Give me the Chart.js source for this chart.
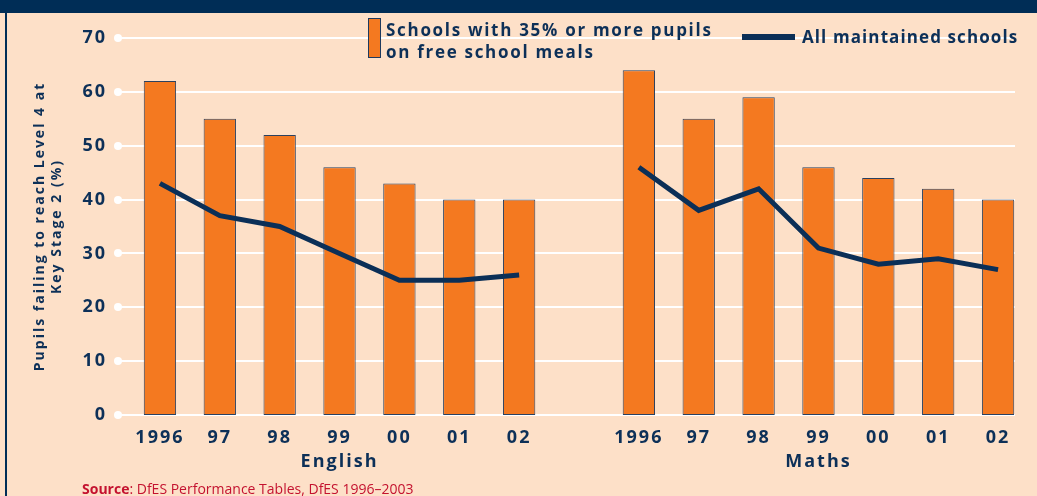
<!DOCTYPE html>
<html>
<head>
<meta charset="utf-8">
<script src="https://cdn.jsdelivr.net/npm/chart.js@4"></script>
<style>
  body { margin: 0; background: #fde0c8; font-family: "Open Sans", sans-serif; }
  #wrap { position: absolute; left: 0; top: 0; width: 1037px; height: 496px; }
  .band { position: absolute; left: 0; top: 0; width: 1037px; height: 13px; background: #002d56; }
  .edge { position: absolute; left: 5px; top: 0; width: 2px; height: 496px; background: #002d56; }
  .legend { position: absolute; color: #0d3058; font-weight: 700; font-size: 17px; letter-spacing: 1.4px; }
  .swatch { position: absolute; left: 368px; top: 18px; width: 11px; height: 38px; background: #f47920; border: 1px solid #1d3a5f; }
  .lineKey { position: absolute; left: 742px; top: 34px; width: 53px; height: 6px; background: #0b2f57; }
  .source { position: absolute; left: 82px; top: 479px; font-size: 14px; color: #c4122f; }
</style>
</head>
<body>
<div id="wrap"><canvas id="chart"></canvas></div>
<div class="band"></div>
<div class="edge"></div>
<div class="swatch"></div>
<div class="legend" style="left:386px; top:19px; line-height:22px; letter-spacing:1.7px;">Schools with 35% or more pupils<br>on free school meals</div>
<div class="lineKey"></div>
<div class="legend" style="left:802px; top:26px; line-height:22px; letter-spacing:1.1px;">All maintained schools</div>
<div class="source"><b>Source</b>: DfES Performance Tables, DfES 1996–2003</div>
<script>
// data
const years = ['1996', '97', '98', '99', '00', '01', '02'];
const subjects = ['English', 'Maths'];
const englishFsm = [62, 55, 52, 46, 43, 40, 40];
const mathsFsm = [64, 55, 59, 46, 44, 42, 40];
const englishAll = [43, 37, 35, 30, 25, 25, 26];
const mathsAll = [46, 38, 42, 31, 28, 29, 27];

// one empty slot between the two subjects
const labels = [...years, '', ...years];
const fsmData = [...englishFsm, null, ...mathsFsm];
const allData = [...englishAll, null, ...mathsAll];

const navy = '#0d3058';

// white gridlines with a dot at the start, subject names under the years
const decor = {
  id: 'decor',
  beforeUpdate(chart) { chart.ctx.letterSpacing = '2px'; },
  beforeDraw(chart) { chart.ctx.letterSpacing = '2px'; },
  beforeDatasetsDraw(chart) {
    const { ctx, chartArea, scales: { y } } = chart;
    const x0 = chartArea.left - 12;
    const x1 = chartArea.right - 13;
    ctx.save();
    ctx.strokeStyle = '#ffffff';
    ctx.fillStyle = '#ffffff';
    ctx.lineWidth = 2;
    y.ticks.forEach(t => {
      const py = Math.round(y.getPixelForValue(t.value));
      ctx.beginPath();
      ctx.moveTo(x0, py);
      ctx.lineTo(x1, py);
      ctx.stroke();
      ctx.beginPath();
      ctx.arc(x0, py, 4, 0, Math.PI * 2);
      ctx.fill();
    });
    ctx.restore();
  },
  afterDraw(chart) {
    const { ctx, scales: { x } } = chart;
    ctx.save();
    ctx.font = 'bold 18px "Open Sans"';
    ctx.fillStyle = navy;
    ctx.textAlign = 'center';
    ctx.textBaseline = 'middle';
    subjects.forEach((s, i) => {
      const px = x.getPixelForValue(3 + i * (years.length + 1));
      ctx.fillText(s, px, 462);
    });
    ctx.restore();
  }
};

new Chart(document.getElementById('chart'), {
  type: 'bar',
  data: {
    labels: labels,
    datasets: [
      {
        type: 'line',
        label: 'All maintained schools',
        data: allData,
        borderColor: '#0b2f57',
        borderWidth: 5,
        pointRadius: 0,
        tension: 0,
        spanGaps: false,
        order: 0
      },
      {
        label: 'Schools with 35% or more pupils on free school meals',
        data: fsmData,
        backgroundColor: '#f47920',
        borderColor: '#2a4160',
        borderWidth: 1,
        borderSkipped: false,
        categoryPercentage: 1,
        barPercentage: 0.54,
        order: 1
      }
    ]
  },
  options: {
    responsive: true,
    maintainAspectRatio: false,
    animation: false,
    layout: { padding: { top: 38, right: 9, left: 0, bottom: 0 } },
    plugins: {
      legend: { display: false },
      tooltip: { enabled: false }
    },
    scales: {
      x: {
        grid: { display: false, drawTicks: false },
        border: { display: false },
        afterFit: s => { s.height = 81; },
        ticks: {
          color: navy,
          padding: 12,
          maxRotation: 0,
          autoSkip: false,
          font: { family: 'Open Sans', size: 18, weight: 'bold' }
        }
      },
      y: {
        min: 0,
        max: 70,
        grid: { display: false, drawTicks: false },
        border: { display: false },
        afterFit: s => { s.width = 130; },
        ticks: {
          stepSize: 10,
          color: navy,
          padding: 23,
          font: { family: 'Open Sans', size: 18, weight: 'bold' }
        },
        title: {
          display: true,
          text: ['Pupils failing to reach Level 4 at', 'Key Stage 2 (%)'],
          color: navy,
          padding: { top: 31, bottom: 0 },
          font: { family: 'Open Sans', size: 14, weight: 'bold', lineHeight: 1.25 }
        }
      }
    }
  },
  plugins: [decor]
});
</script>
</body>
</html>
